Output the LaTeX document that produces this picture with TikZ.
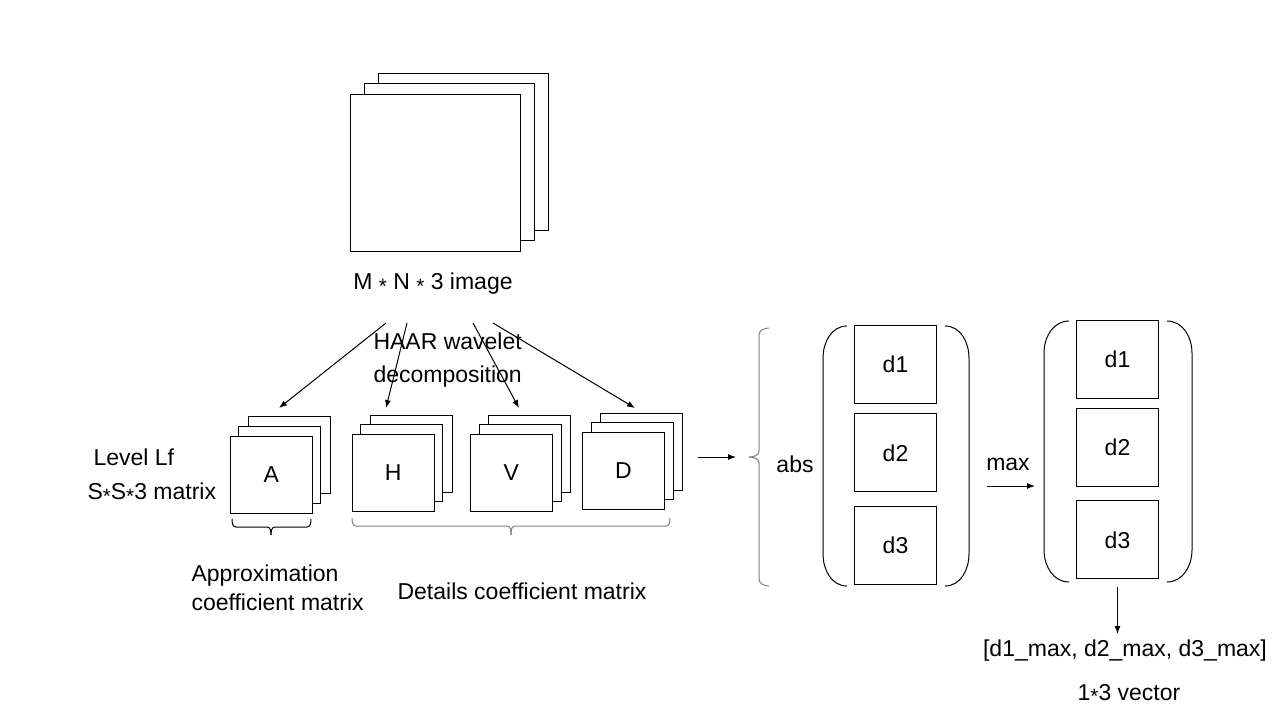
\documentclass[tikz,border=0pt]{standalone}
\usepackage{fontspec}
\usepackage{graphicx}
\setmainfont{Liberation Sans}
\usetikzlibrary{arrows.meta,calc}
\newcommand{\midstar}{\raisebox{-0.16em}{\scalebox{0.9}{*}}}
\tikzset{%
  >={Latex[width=6pt,length=8pt]},
  % Specifications for style of nodes:
           layer/.style = {rectangle, draw=black, fill=white, line width=1pt,
                           minimum width=82pt, minimum height=77pt, inner sep=0pt,
                           font=\fontsize{23}{29}\selectfont},
       big-layer/.style = {layer, minimum width=170pt, minimum height=157pt},
           dcell/.style = {layer, minimum height=78pt},
             txt/.style = {inner sep=0pt, font=\fontsize{23}{29}\selectfont},
       gray-brace/.style = {draw=black!50, line width=1pt},
}

\begin{document}
\begin{tikzpicture}[x=1pt, y=-1pt, line width=1pt]

  \useasboundingbox (0,0) rectangle (1280,720);

  % input image
  \node (img-back)  [big-layer] at (463,152) {};
  \node (img-mid)   [big-layer] at (449.5,162) {};
  \node (img-front) [big-layer] at (435.8,172.5) {};
  \node (img-txt)   [txt] at (433,284) {M \midstar{} N \midstar{} 3 image};

  % level Lf matrices
  \node (a-back)  [layer] at (289.2,455.2) {};
  \node (a-mid)   [layer] at (279.5,464.8) {};
  \node (a-front) [layer] at (271.3,474.8) {A};

  \node (h-back)  [layer] at (411.5,453.5) {};
  \node (h-mid)   [layer] at (401.7,462.8) {};
  \node (h-front) [layer] at (393.3,472.8) {H};

  \node (v-back)  [layer] at (529.2,453.5) {};
  \node (v-mid)   [layer] at (520,462.8) {};
  \node (v-front) [layer] at (511.3,472.8) {V};

  \node (d-back)  [layer] at (641.3,451.5) {};
  \node (d-mid)   [layer] at (632,461) {};
  \node (d-front) [layer] at (623.3,470.8) {D};

  \node (haar)   [txt, anchor=west, align=left] at (373,360) {HAAR wavelet\\[4pt]decomposition};
  \node (level)  [txt, anchor=west] at (93,457) {Level Lf};
  \node (size)   [txt, anchor=west] at (87,493) {S\midstar{}S\midstar{}3 matrix};
  \node (approx) [txt, anchor=west, align=left] at (191,588) {Approximation\\coefficient matrix};
  \node (detail) [txt] at (522,591) {Details coefficient matrix};

  \coordinate (from-a) at (386,323);
  \coordinate (from-h) at (407,323);
  \coordinate (from-v) at (473,323);
  \coordinate (from-d) at (493,323);
  \coordinate (to-a) at (279,408);
  \coordinate (to-h) at (386,408);
  \coordinate (to-v) at (519,408);
  \coordinate (to-d) at (635,408);

  \draw[->] (from-a) -- (to-a);
  \draw[->] (from-h) -- (to-h);
  \draw[->] (from-v) -- (to-v);
  \draw[->] (from-d) -- (to-d);

  % braces under the matrices
  \draw (232,519) to[out=-90,in=180] (236,527) -- (267,527) to[out=0,in=90] (271,535);
  \draw (311,519) to[out=-90,in=0] (307,527) -- (275,527) to[out=180,in=90] (271,535);

  \draw[gray-brace] (352,518) to[out=-90,in=180] (356,526) -- (507,526) to[out=0,in=90] (511,535);
  \draw[gray-brace] (670,518) to[out=-90,in=0] (666,526) -- (515,526) to[out=180,in=90] (511,535);

  % abs
  \coordinate (abs-start) at (698,457);
  \coordinate (abs-end)   at (736,457);
  \draw[->] (abs-start) -- (abs-end);

  \draw[gray-brace] (769,328) to[out=180,in=90] (759,335) -- (759,451) to[out=-90,in=0] (749,457);
  \draw[gray-brace] (769,586) to[out=180,in=-90] (759,579) -- (759,463) to[out=90,in=0] (749,457);
  \node (abs) [txt] at (795,464) {abs};

  \draw (847,326) to[out=180,in=90] (823,358) -- (823,554) to[out=-90,in=180] (847,586);
  \draw (945,326) to[out=0,in=90] (969,358) -- (969,554) to[out=-90,in=0] (945,586);

  \node (abs-d1) [dcell] at (895.5,364.5) {d1};
  \node (abs-d2) [dcell] at (895.5,452.8) {d2};
  \node (abs-d3) [dcell] at (895.5,545.7) {d3};

  % max
  \coordinate (max-start) at (987,486);
  \coordinate (max-end)   at (1035,486);
  \draw[->] (max-start) -- (max-end);
  \node (max) [txt] at (1008,464) {max};

  \draw (1069,321) to[out=180,in=90] (1044,353) -- (1044,550) to[out=-90,in=180] (1069,582);
  \draw (1167,321) to[out=0,in=90] (1192,353) -- (1192,550) to[out=-90,in=0] (1167,582);

  \node (max-d1) [dcell] at (1117.5,359.3) {d1};
  \node (max-d2) [dcell] at (1117.5,447.2) {d2};
  \node (max-d3) [dcell] at (1117.5,539.8) {d3};

  \coordinate (out-start) at (1117.5,587);
  \coordinate (out-end)   at (1117.5,634);
  \draw[->] (out-start) -- (out-end);

  \node (vec)     [txt] at (1125,651) {[d1\_max, d2\_max, d3\_max]};
  \node (vec-txt) [txt] at (1129,694) {1\midstar{}3 vector};

\end{tikzpicture}
\end{document}
